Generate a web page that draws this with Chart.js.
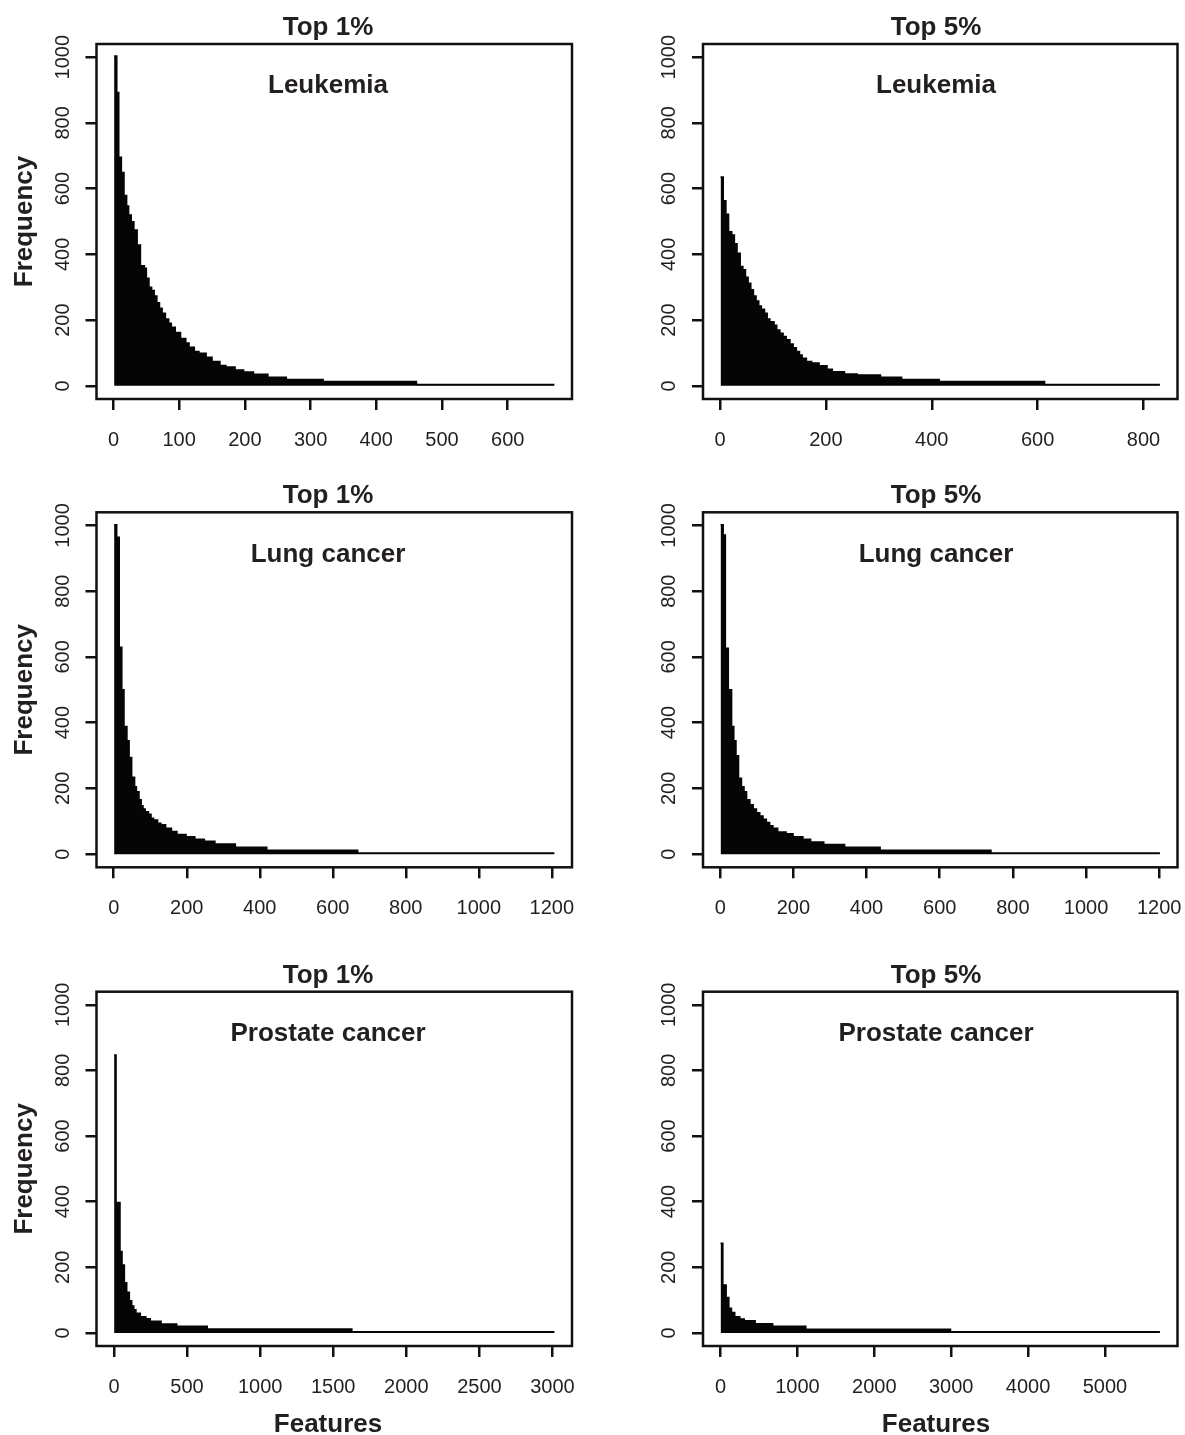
<!DOCTYPE html>
<html lang="en">
<head>
    <meta charset="UTF-8">
    <title>Feature selection frequency</title>
    <script src="https://cdn.jsdelivr.net/npm/chart.js"></script>
    <style>
        body {
            margin: 0;
            background: #fff;
        }
        #fig {
            position: relative;
            width: 1185px;
            height: 1435px;
        }
        .panel {
            position: absolute;
        }
    </style>
</head>
<body>
    <div id="fig">
        <div class="panel" style="left:0;top:0;width:592px;height:470px"><canvas id="p1"></canvas></div>
        <div class="panel" style="left:592px;top:0;width:593px;height:470px"><canvas id="p2"></canvas></div>
        <div class="panel" style="left:0;top:470px;width:592px;height:470px"><canvas id="p3"></canvas></div>
        <div class="panel" style="left:592px;top:470px;width:593px;height:470px"><canvas id="p4"></canvas></div>
        <div class="panel" style="left:0;top:940px;width:592px;height:495px"><canvas id="p5"></canvas></div>
        <div class="panel" style="left:592px;top:940px;width:593px;height:495px"><canvas id="p6"></canvas></div>
    </div>

    <script>
        // each series: rank where a frequency level starts, the level, and the last rank
        const leuk1Start = [1, 5, 8, 12, 16, 20, 23, 27, 31, 36, 41, 47, 50, 54, 58, 62, 66, 70, 74, 79, 84, 88, 94, 102, 110, 115, 123, 130, 141, 150, 162, 171, 185, 198, 213, 235, 263, 319, 461];
        const leuk1Freq = [1003, 892, 695, 649, 579, 547, 520, 499, 474, 428, 365, 358, 327, 300, 290, 273, 253, 236, 221, 203, 190, 178, 162, 144, 130, 117, 104, 99, 87, 74, 62, 57, 48, 42, 35, 26, 19, 13, 4];
        const leuk1Last = 671;
        const leuk1Ticks = [0, 100, 200, 300, 400, 500, 600];

        const leuk5Start = [1, 6, 11, 16, 22, 27, 32, 38, 43, 48, 53, 58, 63, 68, 73, 78, 84, 89, 94, 102, 107, 113, 119, 125, 132, 138, 144, 150, 155, 163, 173, 187, 202, 212, 235, 259, 303, 343, 414, 613];
        const leuk5Freq = [635, 563, 522, 469, 459, 432, 403, 363, 353, 330, 312, 292, 273, 258, 243, 233, 221, 203, 195, 184, 170, 160, 150, 140, 127, 116, 104, 94, 84, 74, 69, 61, 50, 43, 36, 33, 26, 19, 13, 4];
        const leuk5Last = 831;
        const leuk5Ticks = [0, 200, 400, 600, 800];

        const lung1Start = [1, 8, 15, 22, 28, 36, 42, 49, 57, 62, 69, 75, 80, 86, 95, 102, 109, 120, 129, 142, 158, 173, 198, 222, 248, 277, 333, 419, 668];
        const lung1Freq = [1002, 964, 629, 500, 388, 345, 294, 234, 205, 190, 165, 147, 137, 129, 121, 109, 104, 94, 89, 79, 69, 60, 53, 45, 39, 31, 21, 12, 3];
        const lung1Last = 1207;
        const lung1Ticks = [0, 200, 400, 600, 800, 1000, 1200];

        const lung5Start = [1, 8, 14, 22, 31, 37, 43, 50, 58, 65, 72, 81, 90, 99, 108, 117, 126, 135, 144, 157, 180, 199, 226, 247, 283, 340, 437, 740];
        const lung5Freq = [1002, 971, 626, 500, 388, 345, 299, 231, 205, 190, 165, 150, 137, 126, 116, 106, 96, 86, 79, 67, 62, 53, 45, 37, 29, 21, 12, 3];
        const lung5Last = 1202;
        const lung5Ticks = [0, 200, 400, 600, 800, 1000, 1200];

        const pros1Start = [1, 14, 41, 55, 71, 87, 105, 121, 135, 150, 180, 218, 248, 322, 429, 638, 1627];
        const pros1Freq = [847, 397, 248, 207, 153, 124, 98, 82, 70, 60, 49, 43, 35, 27, 20, 12, 3];
        const pros1Last = 3013;
        const pros1Ticks = [0, 500, 1000, 1500, 2000, 2500, 3000];

        const pros5Start = [1, 30, 73, 108, 142, 185, 250, 309, 450, 678, 1109, 2991];
        const pros5Freq = [273, 146, 108, 75, 62, 49, 42, 37, 28, 20, 11, 3];
        const pros5Last = 5715;
        const pros5Ticks = [0, 1000, 2000, 3000, 4000, 5000];

        const freqTicks = [0, 200, 400, 600, 800, 1000];

        // plot box of each column / row inside its canvas
        const cols = [
            { width: 592, left: 96.5, right: 572, textX: 328 },
            { width: 593, left: 111, right: 585.5, textX: 344 }
        ];
        const rows = [
            { height: 470, top: 44, bottom: 399 },
            { height: 470, top: 42.3, bottom: 397.3 },
            { height: 495, top: 51.7, bottom: 406 }
        ];

        const ink = '#231f20';
        const family = "'Liberation Sans', Arial, Helvetica, sans-serif";

        const panels = [
            { id: 'p1', col: 0, row: 0, title: 'Top 1%', name: 'Leukemia', start: leuk1Start, freq: leuk1Freq, last: leuk1Last, ticks: leuk1Ticks },
            { id: 'p2', col: 1, row: 0, title: 'Top 5%', name: 'Leukemia', start: leuk5Start, freq: leuk5Freq, last: leuk5Last, ticks: leuk5Ticks },
            { id: 'p3', col: 0, row: 1, title: 'Top 1%', name: 'Lung cancer', start: lung1Start, freq: lung1Freq, last: lung1Last, ticks: lung1Ticks },
            { id: 'p4', col: 1, row: 1, title: 'Top 5%', name: 'Lung cancer', start: lung5Start, freq: lung5Freq, last: lung5Last, ticks: lung5Ticks },
            { id: 'p5', col: 0, row: 2, title: 'Top 1%', name: 'Prostate cancer', start: pros1Start, freq: pros1Freq, last: pros1Last, ticks: pros1Ticks },
            { id: 'p6', col: 1, row: 2, title: 'Top 5%', name: 'Prostate cancer', start: pros5Start, freq: pros5Freq, last: pros5Last, ticks: pros5Ticks }
        ];

        // box, rotated y labels and all the text, drawn after the chart
        const decor = {
            id: 'decor',
            afterDraw(chart, args, opts) {
                const ctx = chart.ctx;
                const a = chart.chartArea;
                const xs = chart.scales.x;
                const ys = chart.scales.y;
                ctx.save();
                ctx.strokeStyle = '#111';
                ctx.lineWidth = 2.5;
                ctx.strokeRect(a.left, a.top, a.right - a.left, a.bottom - a.top);

                ctx.fillStyle = ink;
                ctx.textAlign = 'center';
                ctx.textBaseline = 'alphabetic';

                ctx.font = '20px ' + family;
                freqTicks.forEach(v => {
                    ctx.save();
                    ctx.translate(a.left - 28, ys.getPixelForValue(v));
                    ctx.rotate(-Math.PI / 2);
                    ctx.fillText(String(v), 0, 0);
                    ctx.restore();
                });
                opts.ticks.forEach(v => {
                    ctx.fillText(String(v), xs.getPixelForValue(v), a.bottom + 47);
                });

                ctx.font = 'bold 26px ' + family;
                ctx.fillText(opts.title, opts.textX, a.top - 9);
                ctx.fillText(opts.name, opts.textX, ys.getPixelForValue(890));

                if (opts.yTitle) {
                    ctx.save();
                    ctx.translate(32, (a.top + a.bottom) / 2);
                    ctx.rotate(-Math.PI / 2);
                    ctx.fillText('Frequency', 0, 0);
                    ctx.restore();
                }
                if (opts.xTitle) {
                    ctx.fillText('Features', opts.textX, chart.height - 3);
                }
                ctx.restore();
            }
        };

        panels.forEach(p => {
            const c = cols[p.col];
            const r = rows[p.row];
            const points = p.start.map((s, i) => ({ x: s, y: p.freq[i] }));
            points.push({ x: p.last, y: p.freq[p.freq.length - 1] });
            const pad = 0.04 * (p.last - 1);

            const grid = {
                drawOnChartArea: false,
                drawTicks: true,
                tickLength: 11,
                lineWidth: 2.5,
                color: '#111'
            };

            new Chart(document.getElementById(p.id), {
                type: 'line',
                data: {
                    datasets: [{
                        data: points,
                        // each level holds from its start rank up to the next one
                        stepped: 'before',
                        fill: 'origin',
                        borderColor: '#050505',
                        backgroundColor: '#050505',
                        borderWidth: 1.6,
                        pointRadius: 0
                    }]
                },
                options: {
                    responsive: true,
                    maintainAspectRatio: false,
                    animation: false,
                    events: [],
                    layout: {
                        padding: { left: 0, top: r.top, right: c.width - c.right, bottom: 0 }
                    },
                    plugins: {
                        legend: { display: false },
                        tooltip: { enabled: false },
                        decor: {
                            title: p.title,
                            name: p.name,
                            ticks: p.ticks,
                            textX: c.textX,
                            yTitle: p.col === 0,
                            xTitle: p.row === 2
                        }
                    },
                    scales: {
                        x: {
                            type: 'linear',
                            min: 1 - pad,
                            max: p.last + pad,
                            grid: grid,
                            border: { display: false },
                            ticks: { display: false },
                            afterBuildTicks: s => { s.ticks = p.ticks.map(v => ({ value: v })); },
                            afterFit: s => { s.height = r.height - r.bottom; }
                        },
                        y: {
                            min: -40,
                            max: 1040,
                            grid: grid,
                            border: { display: false },
                            ticks: { display: false },
                            afterBuildTicks: s => { s.ticks = freqTicks.map(v => ({ value: v })); },
                            afterFit: s => { s.width = c.left; }
                        }
                    }
                },
                plugins: [decor]
            });
        });
    </script>
</body>
</html>
